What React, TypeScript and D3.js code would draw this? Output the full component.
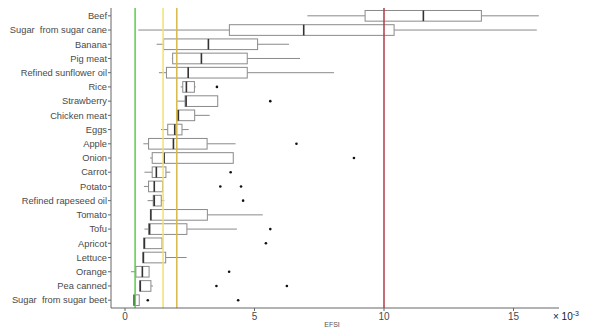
import React from "react";
import * as d3 from "d3";

const categories = [
  "Beef", "Sugar  from sugar cane", "Banana", "Pig meat", "Refined sunflower oil",
  "Rice", "Strawberry", "Chicken meat", "Eggs", "Apple", "Onion", "Carrot", "Potato",
  "Refined rapeseed oil", "Tomato", "Tofu", "Apricot", "Lettuce", "Orange",
  "Pea canned", "Sugar  from sugar beet",
];
const whiskerLow = [7.04, 0.51, 1.22, 1.81, 1.31, 2.15, 2.02, 2.02, 1.39, 0.71, 0.97, 0.75, 0.73, 0.87, 0.98, 0.75, 0.72, 0.69, 0.23, 0.57, 0.34];
const q1 = [9.27, 4.03, 1.49, 1.84, 1.6, 2.23, 2.32, 2.02, 1.65, 0.91, 1.05, 1.05, 0.91, 1.09, 0.98, 0.91, 0.72, 0.69, 0.42, 0.57, 0.34];
const median = [11.52, 6.9, 3.22, 2.95, 2.44, 2.37, 2.36, 2.06, 1.92, 1.87, 1.51, 1.21, 1.13, 1.13, 1.0, 0.95, 0.75, 0.71, 0.67, 0.59, 0.36];
const q3 = [13.76, 10.39, 5.12, 4.72, 4.72, 2.68, 3.58, 2.69, 2.2, 3.17, 4.18, 1.58, 1.45, 1.4, 3.18, 2.39, 1.43, 1.57, 0.93, 1.0, 0.55];
const whiskerHigh = [15.98, 15.9, 6.33, 6.76, 8.07, 2.73, 3.58, 3.27, 2.46, 4.27, 4.18, 1.75, 1.45, 1.52, 5.32, 4.32, 1.43, 2.38, 0.93, 1.08, 0.55];
const outliers: number[][] = [
  [], [], [], [], [], [3.55], [5.61], [], [], [6.62], [8.84], [4.08], [3.68, 4.48],
  [4.56], [], [5.61], [5.44], [], [4.02], [3.53, 6.25], [0.88, 4.37],
];
const refValues = [0.39, 1.47, 2.0, 10.0];
const refColors = ["#5ccc4a", "#f2e36a", "#d9b84a", "#b23a48"];
const xTicks = [0, 5, 10, 15];

export default function App() {
  const width = 595, height = 335;
  const x = d3.scaleLinear().domain([0, 15]).range([125, 513.5]);
  const y = d3.scalePoint<string>().domain(categories).range([8, 308]).padding(0.55);
  const step = y.step();
  const bh = step * 0.75;
  const axisLeft = 111, axisBottom = 308, axisTop = 8, axisRight = 559;
  const font = "Liberation Sans, Arial, sans-serif";

  return (
    <svg width={width} height={height} style={{ position: "absolute", left: 0, top: 0 }}>
      <rect width={width} height={height} fill="#fff" />
      {categories.map((c, i) => {
        const cy = y(c)!;
        return (
          <g key={c}>
            <line x1={x(whiskerLow[i])} x2={x(q1[i])} y1={cy} y2={cy} stroke="#8a8a8a" strokeWidth={1} />
            <line x1={x(q3[i])} x2={x(whiskerHigh[i])} y1={cy} y2={cy} stroke="#8a8a8a" strokeWidth={1} />
            <rect x={x(q1[i])} y={cy - bh / 2} width={x(q3[i]) - x(q1[i])} height={bh} fill="#fff" stroke="#8a8a8a" strokeWidth={1} />
            <line x1={x(median[i])} x2={x(median[i])} y1={cy - bh / 2} y2={cy + bh / 2} stroke="#333" strokeWidth={1.6} />
            {outliers[i].map((o, k) => (
              <circle key={k} cx={x(o)} cy={cy} r={1.3} fill="#111" />
            ))}
            <line x1={axisLeft - 3} x2={axisLeft} y1={cy} y2={cy} stroke="#666" />
            <text x={axisLeft - 4} y={cy} dy="0.35em" textAnchor="end" fontSize={9.3} fill="#4a4a4a" fontFamily={font} style={{ whiteSpace: "pre" }}>{c}</text>
          </g>
        );
      })}
      {refValues.map((v, i) => (
        <line key={i} x1={x(v)} x2={x(v)} y1={axisTop} y2={axisBottom} stroke={refColors[i]} strokeWidth={1.5} />
      ))}
      <line x1={axisLeft} x2={axisLeft} y1={axisTop} y2={axisBottom} stroke="#666" strokeWidth={1} />
      <line x1={axisLeft} x2={axisRight} y1={axisBottom} y2={axisBottom} stroke="#666" strokeWidth={1} />
      {xTicks.map((t) => (
        <g key={t}>
          <line x1={x(t)} x2={x(t)} y1={axisBottom} y2={axisBottom + 3} stroke="#666" />
          <text x={x(t)} y={axisBottom + 12} textAnchor="middle" fontSize={10} fill="#4a4a4a" fontFamily={font}>{t}</text>
        </g>
      ))}
      <text x={332} y={327} textAnchor="middle" fontSize={7} fill="#555" fontFamily={font}>EFSI</text>
      <text x={553} y={320} fontSize={10} fill="#222" fontFamily={font}>× 10<tspan fontSize={7} dy={-4}>-3</tspan></text>
    </svg>
  );
}
